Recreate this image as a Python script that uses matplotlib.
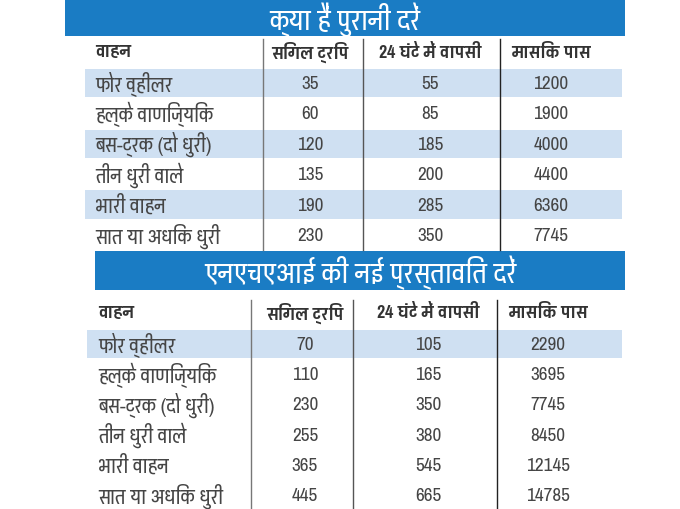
import matplotlib
matplotlib.use('Agg')
import matplotlib.pyplot as plt

# तालिका का डेटा
vehicles = ['फोर व्हीलर', 'हल्के वाणिज्यिक', 'बस-ट्रक (दो धुरी)',
            'तीन धुरी वाले', 'भारी वाहन', 'सात या अधिक धुरी']
columns = ['वाहन', 'सिंगल ट्रिप', '24 घंटे में वापसी', 'मासिक पास']
old_title = 'क्या हैं पुरानी दरें'
old_single = [35, 60, 120, 135, 190, 230]
old_24h = [55, 85, 185, 200, 285, 350]
old_monthly = [1200, 1900, 4000, 4400, 6360, 7745]
new_title = 'एनएचएआई की नई प्रस्तावित दरें'
new_single = [70, 110, 230, 255, 365, 445]
new_24h = [105, 165, 350, 380, 545, 665]
new_monthly = [2290, 3695, 7745, 8450, 12145, 14785]

plt.rcParams['font.family'] = ['Pragati Narrow', 'Noto Sans Devanagari', 'DejaVu Sans']

BLUE = '#1a7cc4'
SHADE = '#cfe0f2'
TEXT = '#454545'


def draw_table(ax, title, band, head_y, row0, step, label_x, shade_x, seps, centers, values, shaded):
    bx0, bx1, by0, by1 = band
    ax.fill_between([bx0, bx1], by0, by1, color=BLUE, lw=0)
    ax.text((bx0 + bx1) / 2, (by0 + by1) / 2 + 1, title, color='white', fontsize=22,
            ha='center', va='center')
    for i in shaded:
        y = row0 + i * step
        ax.fill_between(shade_x, y - step / 2 + 1, y + step / 2 - 1, color=SHADE, lw=0)
    ax.text(label_x, head_y, columns[0], fontsize=14, fontweight='bold', color='#333333', va='center')
    for c, name in zip(centers, columns[1:]):
        ax.text(c, head_y, name, fontsize=14, fontweight='bold', color='#333333',
                ha='center', va='center')
    for i, v in enumerate(vehicles):
        y = row0 + i * step
        ax.text(label_x, y, v, fontsize=16, color=TEXT, va='center')
        for c, col in zip(centers, values):
            ax.text(c, y, str(col[i]), fontsize=15, color=TEXT, ha='center', va='center')
    top = head_y - 12
    bottom = row0 + 5 * step + step / 2
    for s, colr in zip(seps, ['#777777', '#555555', '#222222']):
        ax.plot([s, s], [top, bottom], color=colr, lw=1)


fig = plt.figure(figsize=(6.8, 5.1), dpi=100)
ax = fig.add_axes([0, 0, 1, 1])
ax.set_xlim(0, 680)
ax.set_ylim(510, 0)
ax.axis('off')

draw_table(ax, old_title, (65, 625, 0, 37), 52, 84, 30.4, 95, [85, 622],
           [263, 363, 500], [310, 430, 551],
           [old_single, old_24h, old_monthly], [0, 2, 4])
draw_table(ax, new_title, (95, 625, 252, 291), 313, 345, 30.2, 98, [87, 622],
           [251, 353, 497], [305, 428, 548],
           [new_single, new_24h, new_monthly], [0])

fig.savefig('out.png', dpi=100)
